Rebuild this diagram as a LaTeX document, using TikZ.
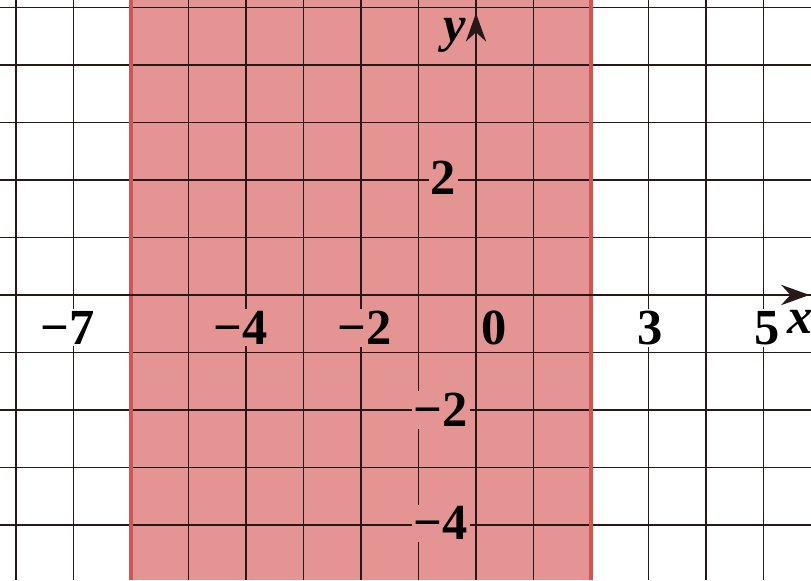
\documentclass[tikz,border=0pt]{standalone}
\usepackage{fontspec}
\setmainfont{Liberation Serif}
\usetikzlibrary{arrows.meta}
\definecolor{pinkfill}{RGB}{229,148,148}
\definecolor{edgered}{RGB}{208,86,86}
\definecolor{gridc}{RGB}{40,25,25}
\begin{document}
\begin{tikzpicture}[x=1cm,y=1cm,
  lab/.style={font=\fontsize{25}{25}\selectfont\bfseries, inner sep=1pt},
  labpink/.style={lab, fill=pinkfill},
  labwhite/.style={lab, fill=white},
  axisline/.style={line width=1.4pt, gridc, -{Stealth[length=14pt,width=10pt]}},
  gridline/.style={gridc, line width=0.9pt},
  edgeline/.style={edgered, line width=2pt}]
\useasboundingbox (-8.278,-4.957) rectangle (5.826,5.130);
\fill[white] (-8.278,-4.957) rectangle (5.826,5.130);
\fill[pinkfill] (-6,-4.957) rectangle (2,5.130);
\draw[gridline] (-8.278,-4.957) grid (5.826,5.130);
% coordinates for axes
\coordinate (xs) at (-8.278,0);
\coordinate (xe) at (5.80,0);
\coordinate (ys) at (0,-4.957);
\coordinate (ye) at (0,4.90);
\coordinate (l1b) at (-6,-4.957);
\coordinate (l1t) at (-6,5.130);
\coordinate (l2b) at (2,-4.957);
\coordinate (l2t) at (2,5.130);
% labels
\node[labwhite] (m7) at (-7.10,-0.57) {−7};
\node[labpink] (m4) at (-4.10,-0.57) {−4};
\node[labpink] (m2) at (-1.93,-0.57) {−2};
\node[labpink] (z0) at (0.31,-0.57) {0};
\node[labwhite] (p3) at (3.03,-0.57) {3};
\node[labwhite] (p5) at (5.06,-0.57) {5};
\node[lab, font=\fontsize{25}{25}\selectfont\bfseries\itshape] (xl) at (5.64,-0.47) {x};
\node[lab, font=\fontsize{25}{25}\selectfont\bfseries\itshape] (yl) at (-0.37,4.52) {y};
\node[labpink] (y2) at (-0.57,2.03) {2};
\node[labpink, anchor=east] (ym2) at (-0.10,-2.0) {−2};
\node[labpink, anchor=east] (ym4) at (-0.10,-3.97) {−4};
% edges of strip
\draw[edgeline] (l1b) -- (l1t);
\draw[edgeline] (l2b) -- (l2t);
% axes
\draw[axisline] (xs) -- (xe);
\draw[axisline] (ys) -- (ye);
\end{tikzpicture}
\end{document}
